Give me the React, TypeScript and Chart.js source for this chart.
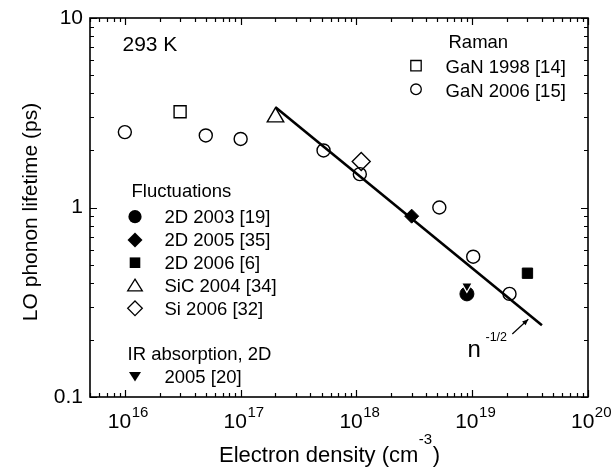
import React, { useEffect, useRef } from "react";
import { Chart, registerables } from "chart.js";

Chart.register(...registerables);

const FONT = '"Liberation Sans", Arial, Helvetica, sans-serif';

// ---- data ----
const ganSquareX = [3e16];
const ganSquareY = [3.2];
const ganCircleX = [1e16, 5e16, 1e17, 5.2e17, 1.07e18, 5.2e18, 1.02e19, 2.1e19];
const ganCircleY = [2.5, 2.4, 2.3, 2.0, 1.5, 1.0, 0.55, 0.35];
const d2003X = [9e18];
const d2003Y = [0.35];
const d2005X = [3e18];
const d2005Y = [0.9];
const d2006X = [3e19];
const d2006Y = [0.45];
const sic2004X = [2e17];
const sic2004Y = [3.0];
const si2006X = [1.1e18];
const si2006Y = [1.75];
const ir2005X = [9e18];
const ir2005Y = [0.385];
const fitX = [2e17, 4e19];
const fitY = [3.38, 0.239];

const xTickExponents = ["16", "17", "18", "19", "20"];
const xTickValues = [1e16, 1e17, 1e18, 1e19, 1e20];
const yTickLabels = ["0.1", "1", "10"];
const yTickValues = [0.1, 1, 10];

const X_MIN = 5e15;
const X_MAX = 1e20;
const Y_MIN = 0.1;
const Y_MAX = 10;

function pts(xs: number[], ys: number[]) {
  return xs.map((x, i) => ({ x, y: ys[i] }));
}

type Shape = "circle" | "square" | "diamond" | "tri" | "triDown";

function drawShape(
  ctx: CanvasRenderingContext2D,
  shape: Shape,
  x: number,
  y: number,
  s: number,
  filled: boolean
) {
  ctx.save();
  ctx.beginPath();
  if (shape === "circle") {
    ctx.arc(x, y, s, 0, Math.PI * 2);
  } else if (shape === "square") {
    ctx.rect(x - s, y - s, 2 * s, 2 * s);
  } else if (shape === "diamond") {
    ctx.moveTo(x, y - s);
    ctx.lineTo(x + s, y);
    ctx.lineTo(x, y + s);
    ctx.lineTo(x - s, y);
    ctx.closePath();
  } else if (shape === "tri") {
    ctx.moveTo(x, y - s * 0.8);
    ctx.lineTo(x + s, y + s * 0.8);
    ctx.lineTo(x - s, y + s * 0.8);
    ctx.closePath();
  } else {
    ctx.moveTo(x - s, y - s * 0.8);
    ctx.lineTo(x + s, y - s * 0.8);
    ctx.lineTo(x, y + s * 0.8);
    ctx.closePath();
  }
  if (filled) {
    ctx.fillStyle = "#000";
    ctx.fill();
  } else {
    ctx.lineWidth = 1.3;
    ctx.strokeStyle = "#000";
    ctx.stroke();
  }
  ctx.restore();
}

const decorPlugin = {
  id: "decor",
  afterDraw(chart: any) {
    const ctx: CanvasRenderingContext2D = chart.ctx;
    const { left, right, top, bottom } = chart.chartArea;
    const xs = chart.scales.x;
    const ys = chart.scales.y;
    ctx.save();
    ctx.strokeStyle = "#000";
    ctx.fillStyle = "#000";

    // frame
    ctx.lineWidth = 1.6;
    ctx.strokeRect(left, top, right - left, bottom - top);

    // ticks
    ctx.lineWidth = 1.2;
    ctx.beginPath();
    for (let e = 15; e <= 20; e++) {
      for (let m = 1; m <= 9; m++) {
        const v = m * Math.pow(10, e);
        if (v < X_MIN * 0.999 || v > X_MAX * 1.001) continue;
        const px = Math.round(xs.getPixelForValue(v)) + 0.5;
        const len = m === 1 ? 7 : 4;
        ctx.moveTo(px, bottom);
        ctx.lineTo(px, bottom - len);
        ctx.moveTo(px, top);
        ctx.lineTo(px, top + len);
      }
    }
    for (let e = -1; e <= 1; e++) {
      for (let m = 1; m <= 9; m++) {
        const v = m * Math.pow(10, e);
        if (v < Y_MIN * 0.999 || v > Y_MAX * 1.001) continue;
        const py = Math.round(ys.getPixelForValue(v)) + 0.5;
        const len = m === 1 ? 7 : 4;
        ctx.moveTo(left, py);
        ctx.lineTo(left + len, py);
        ctx.moveTo(right, py);
        ctx.lineTo(right - len, py);
      }
    }
    ctx.stroke();

    // x tick labels 10^n
    ctx.textBaseline = "alphabetic";
    ctx.textAlign = "left";
    xTickValues.forEach((v, i) => {
      const px = xs.getPixelForValue(v);
      ctx.font = `21px ${FONT}`;
      const w1 = ctx.measureText("10").width;
      ctx.font = `15px ${FONT}`;
      const w2 = ctx.measureText(xTickExponents[i]).width;
      const x0 = px + 3 - (w1 + w2) / 2;
      ctx.font = `21px ${FONT}`;
      ctx.fillText("10", x0, 427.5);
      ctx.font = `15px ${FONT}`;
      ctx.fillText(xTickExponents[i], x0 + w1 + 0.5, 417);
    });

    // y tick labels
    ctx.font = `21px ${FONT}`;
    ctx.textAlign = "right";
    ctx.textBaseline = "middle";
    yTickValues.forEach((v, i) => {
      const py = ys.getPixelForValue(v);
      ctx.fillText(yTickLabels[i], 83, py);
    });

    // x title
    ctx.textBaseline = "alphabetic";
    ctx.textAlign = "left";
    {
      const a = "Electron density (cm";
      const b = "-3";
      const c = ")";
      ctx.font = `22px ${FONT}`;
      const wa = ctx.measureText(a).width;
      const wc = ctx.measureText(c).width;
      ctx.font = `15px ${FONT}`;
      const wb = ctx.measureText(b).width;
      const x0 = 329 - (wa + wb + wc) / 2;
      ctx.font = `22px ${FONT}`;
      ctx.fillText(a, x0, 461.5);
      ctx.font = `15px ${FONT}`;
      ctx.fillText(b, x0 + wa + 0.5, 443.5);
      ctx.font = `22px ${FONT}`;
      ctx.fillText(c, x0 + wa + wb + 1, 461.5);
    }

    // y title
    ctx.save();
    ctx.translate(37, 212);
    ctx.rotate(-Math.PI / 2);
    ctx.textAlign = "center";
    ctx.textBaseline = "alphabetic";
    ctx.font = `21px ${FONT}`;
    ctx.fillText("LO phonon lifetime (ps)", 0, 0);
    ctx.restore();

    // 293 K
    ctx.textAlign = "left";
    ctx.font = `21px ${FONT}`;
    ctx.fillText("293 K", 122.5, 50.5);

    // Raman legend
    ctx.font = `18.5px ${FONT}`;
    ctx.fillText("Raman", 448.5, 48);
    drawShape(ctx, "square", 416, 65.7, 5.2, false);
    ctx.fillText("GaN 1998 [14]", 445.5, 72.5);
    drawShape(ctx, "circle", 416, 89.3, 5.3, false);
    ctx.fillText("GaN 2006 [15]", 445.5, 96.5);

    // Fluctuations legend
    ctx.fillText("Fluctuations", 131.5, 196.5);
    drawShape(ctx, "circle", 135, 216.7, 6.6, true);
    ctx.fillText("2D 2003 [19]", 164.5, 222.7);
    drawShape(ctx, "diamond", 135, 240, 7.5, true);
    ctx.fillText("2D 2005 [35]", 164.5, 245.8);
    drawShape(ctx, "square", 135, 262.7, 5.3, true);
    ctx.fillText("2D 2006 [6]", 164.5, 269);
    drawShape(ctx, "tri", 135, 285, 7.3, false);
    ctx.fillText("SiC 2004 [34]", 164.5, 292);
    drawShape(ctx, "diamond", 135, 308.3, 7.3, false);
    ctx.fillText("Si 2006 [32]", 164.5, 315);

    ctx.fillText("IR absorption, 2D", 127.5, 359.5);
    drawShape(ctx, "triDown", 135, 376.7, 6, true);
    ctx.fillText("2005 [20]", 164.5, 382.5);

    // n^-1/2 annotation
    ctx.font = `24px ${FONT}`;
    ctx.fillText("n", 467.5, 356.7);
    ctx.font = `12.5px ${FONT}`;
    ctx.fillText("-1/2", 485.5, 341);

    // arrow
    const ax0 = 512.3, ay0 = 334, ax1 = 528.3, ay1 = 319.3;
    ctx.lineWidth = 1.2;
    ctx.beginPath();
    ctx.moveTo(ax0, ay0);
    ctx.lineTo(ax1, ay1);
    ctx.stroke();
    const ang = Math.atan2(ay1 - ay0, ax1 - ax0);
    const hl = 6, hw = 2.6;
    ctx.beginPath();
    ctx.moveTo(ax1, ay1);
    ctx.lineTo(
      ax1 - hl * Math.cos(ang) + hw * Math.sin(ang),
      ay1 - hl * Math.sin(ang) - hw * Math.cos(ang)
    );
    ctx.lineTo(
      ax1 - hl * Math.cos(ang) - hw * Math.sin(ang),
      ay1 - hl * Math.sin(ang) + hw * Math.cos(ang)
    );
    ctx.closePath();
    ctx.fill();

    ctx.restore();
  },
};

export default function App() {
  const ref = useRef<HTMLCanvasElement | null>(null);

  useEffect(() => {
    if (!ref.current) return;
    const clear = "rgba(0,0,0,0)";
    const chart = new Chart(ref.current, {
      type: "scatter",
      data: {
        datasets: [
          {
            label: "2005 [20]",
            data: pts(ir2005X, ir2005Y),
            pointStyle: "triangle",
            pointRotation: 180,
            pointRadius: 6.3,
            pointBackgroundColor: "#000",
            pointBorderColor: "#fff",
            pointBorderWidth: 1.2,
          },
          {
            label: "2D 2003 [19]",
            data: pts(d2003X, d2003Y),
            pointStyle: "circle",
            pointRadius: 7,
            pointBackgroundColor: "#000",
            pointBorderColor: "#000",
            pointBorderWidth: 1,
          },
          {
            label: "2D 2005 [35]",
            data: pts(d2005X, d2005Y),
            pointStyle: "rectRot",
            pointRadius: 7,
            pointBackgroundColor: "#000",
            pointBorderColor: "#000",
            pointBorderWidth: 1,
          },
          {
            label: "2D 2006 [6]",
            data: pts(d2006X, d2006Y),
            pointStyle: "rect",
            pointRadius: 7.3,
            pointBackgroundColor: "#000",
            pointBorderColor: "#000",
            pointBorderWidth: 1,
          },
          {
            label: "Si 2006 [32]",
            data: pts(si2006X, si2006Y),
            pointStyle: "rectRot",
            pointRadius: 9,
            pointBackgroundColor: clear,
            pointBorderColor: "#000",
            pointBorderWidth: 1.4,
          },
          {
            label: "SiC 2004 [34]",
            data: pts(sic2004X, sic2004Y),
            pointStyle: "triangle",
            pointRadius: 9.5,
            pointBackgroundColor: clear,
            pointBorderColor: "#000",
            pointBorderWidth: 1.4,
          },
          {
            label: "GaN 2006 [15]",
            data: pts(ganCircleX, ganCircleY),
            pointStyle: "circle",
            pointRadius: 6.5,
            pointBackgroundColor: clear,
            pointBorderColor: "#000",
            pointBorderWidth: 1.4,
          },
          {
            label: "GaN 1998 [14]",
            data: pts(ganSquareX, ganSquareY),
            pointStyle: "rect",
            pointRadius: 8.5,
            pointBackgroundColor: clear,
            pointBorderColor: "#000",
            pointBorderWidth: 1.4,
          },
          {
            label: "n^-1/2",
            data: pts(fitX, fitY),
            showLine: true,
            pointRadius: 0,
            borderColor: "#000",
            borderWidth: 2.6,
            backgroundColor: "#000",
          },
        ],
      },
      options: {
        animation: false,
        responsive: false,
        devicePixelRatio: 1,
        layout: { padding: { left: 90, top: 18, right: 28, bottom: 70 } },
        plugins: {
          legend: { display: false },
          tooltip: { enabled: false },
        },
        scales: {
          x: { type: "logarithmic", min: X_MIN, max: X_MAX, display: false },
          y: { type: "logarithmic", min: Y_MIN, max: Y_MAX, display: false },
        },
      },
      plugins: [decorPlugin],
    });
    return () => chart.destroy();
  }, []);

  return (
    <div style={{ position: "absolute", left: 0, top: 0, width: 616, height: 467, background: "#fff" }}>
      <canvas ref={ref} width={616} height={467} style={{ display: "block" }} />
    </div>
  );
}
